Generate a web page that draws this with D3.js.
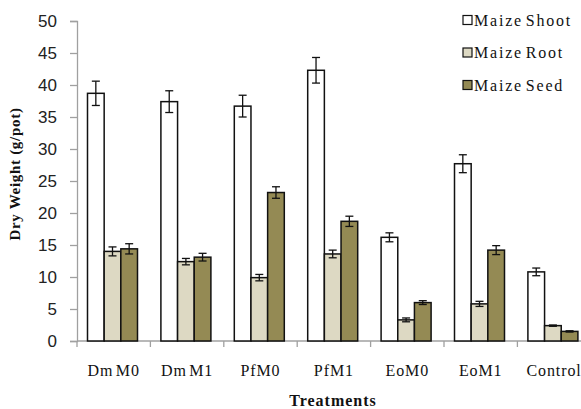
<!DOCTYPE html>
<html>
<head>
<meta charset="utf-8">
<script src="https://cdn.jsdelivr.net/npm/d3@7"></script>
<style>
  body { margin: 0; background: #fff; }
  svg { display: block; overflow: hidden; }
</style>
</head>
<body>
<script>
// data
var treatments = ["Dm M0", "Dm M1", "PfM0", "PfM1", "EoM0", "EoM1", "Control"];
var seriesNames = ["Maize Shoot", "Maize Root", "Maize Seed"];
var shoot    = [38.7, 37.4, 36.7, 42.3, 16.2, 27.7, 10.8];
var shootErr = [1.9, 1.7, 1.7, 2.0, 0.7, 1.4, 0.6];
var root     = [14.0, 12.4, 9.9, 13.6, 3.3, 5.8, 2.4];
var rootErr  = [0.7, 0.5, 0.5, 0.6, 0.3, 0.4, 0.1];
var seed     = [14.4, 13.1, 23.2, 18.7, 6.0, 14.2, 1.5];
var seedErr  = [0.8, 0.6, 0.9, 0.8, 0.3, 0.7, 0.1];
var yTicks   = [0, 5, 10, 15, 20, 25, 30, 35, 40, 45, 50];
var colors   = ["#ffffff", "#ddd9c3", "#948a54"];

var W = 581, H = 409;
var plotLeft = 77, plotTop = 21, plotBottom = 341;

var data = treatments.map(function(t, i) {
  return {
    name: t,
    vals: [
      {s: seriesNames[0], v: shoot[i], e: shootErr[i], c: colors[0]},
      {s: seriesNames[1], v: root[i],  e: rootErr[i],  c: colors[1]},
      {s: seriesNames[2], v: seed[i],  e: seedErr[i],  c: colors[2]}
    ]
  };
});

var svg = d3.select("body").append("svg")
  .attr("width", W)
  .attr("height", H);

var x0 = d3.scaleBand()
  .domain(treatments)
  .range([plotLeft, plotLeft + 7 * 73.4])
  .padding(0);

var x1 = d3.scaleBand()
  .domain(seriesNames)
  .range([10.5, 60.5])
  .padding(0);

var y = d3.scaleLinear()
  .domain([0, 50])
  .range([plotBottom, plotTop]);

// y axis
var yAxis = d3.axisLeft(y).tickValues(yTicks).tickSize(7).tickPadding(13).tickSizeOuter(7);
var gy = svg.append("g")
  .attr("transform", "translate(" + plotLeft + ",0)")
  .call(yAxis);
gy.selectAll("path, line").attr("stroke", "#a0a0a0").attr("stroke-width", 1.3);
gy.selectAll("text")
  .attr("font-family", "Liberation Sans, Arial, sans-serif")
  .attr("font-size", 17)
  .attr("fill", "#222");

// x axis: ticks on category boundaries
var gx = svg.append("g")
  .attr("transform", "translate(0," + plotBottom + ")");
gx.append("line")
  .attr("x1", plotLeft).attr("x2", W)
  .attr("stroke", "#a0a0a0").attr("stroke-width", 1.3);
gx.selectAll(".bt")
  .data(treatments)
  .enter().append("line")
  .attr("x1", function(d) { return x0(d); })
  .attr("x2", function(d) { return x0(d); })
  .attr("y1", 0).attr("y2", 6)
  .attr("stroke", "#a0a0a0").attr("stroke-width", 1.3);
gx.selectAll(".lab")
  .data(treatments)
  .enter().append("text")
  .attr("x", function(d) { return x0(d) + x0.bandwidth() / 2; })
  .attr("y", 35)
  .attr("text-anchor", "middle")
  .attr("font-family", "Liberation Serif, Times New Roman, serif")
  .attr("font-size", 16)
  .attr("letter-spacing", 0.9)
  .attr("word-spacing", -2.5)
  .attr("fill", "#111")
  .text(function(d) { return d; });

// bars
var groups = svg.selectAll(".grp")
  .data(data)
  .enter().append("g")
  .attr("transform", function(d) { return "translate(" + x0(d.name) + ",0)"; });

groups.selectAll("rect")
  .data(function(d) { return d.vals; })
  .enter().append("rect")
  .attr("x", function(d) { return x1(d.s); })
  .attr("y", function(d) { return y(d.v); })
  .attr("width", x1.bandwidth())
  .attr("height", function(d) { return y(0) - y(d.v); })
  .attr("fill", function(d) { return d.c; })
  .attr("stroke", "#111")
  .attr("stroke-width", 1.5);

// error bars
var eb = groups.selectAll(".err")
  .data(function(d) { return d.vals; })
  .enter().append("g")
  .attr("stroke", "#111")
  .attr("stroke-width", 1.3);
eb.append("line")
  .attr("x1", function(d) { return x1(d.s) + x1.bandwidth() / 2; })
  .attr("x2", function(d) { return x1(d.s) + x1.bandwidth() / 2; })
  .attr("y1", function(d) { return y(d.v + d.e); })
  .attr("y2", function(d) { return y(d.v - d.e); });
eb.append("line")
  .attr("x1", function(d) { return x1(d.s) + x1.bandwidth() / 2 - 4; })
  .attr("x2", function(d) { return x1(d.s) + x1.bandwidth() / 2 + 4; })
  .attr("y1", function(d) { return y(d.v + d.e); })
  .attr("y2", function(d) { return y(d.v + d.e); });
eb.append("line")
  .attr("x1", function(d) { return x1(d.s) + x1.bandwidth() / 2 - 4; })
  .attr("x2", function(d) { return x1(d.s) + x1.bandwidth() / 2 + 4; })
  .attr("y1", function(d) { return y(d.v - d.e); })
  .attr("y2", function(d) { return y(d.v - d.e); });

// axis titles
svg.append("text")
  .attr("x", (plotLeft + W) / 2 + 4)
  .attr("y", 406)
  .attr("text-anchor", "middle")
  .attr("font-family", "Liberation Serif, Times New Roman, serif")
  .attr("font-weight", "bold")
  .attr("font-size", 16)
  .attr("letter-spacing", 1)
  .attr("fill", "#111")
  .text("Treatments");

svg.append("text")
  .attr("transform", "translate(20,174) rotate(-90)")
  .attr("text-anchor", "middle")
  .attr("font-family", "Liberation Serif, Times New Roman, serif")
  .attr("font-weight", "bold")
  .attr("font-size", 15)
  .attr("letter-spacing", 0.7)
  .attr("fill", "#111")
  .text("Dry Weight (g/pot)");

// legend
var legend = svg.selectAll(".leg")
  .data(seriesNames)
  .enter().append("g")
  .attr("transform", function(d, i) { return "translate(463," + (20 + i * 32.5) + ")"; });
legend.append("rect")
  .attr("x", 0).attr("y", -4.5)
  .attr("width", 9).attr("height", 9)
  .attr("fill", function(d, i) { return colors[i]; })
  .attr("stroke", "#111")
  .attr("stroke-width", 1.2);
legend.append("text")
  .attr("x", 11)
  .attr("y", 5.5)
  .attr("font-family", "Liberation Serif, Times New Roman, serif")
  .attr("font-size", 16)
  .attr("letter-spacing", 1.8)
  .attr("word-spacing", -3)
  .attr("fill", "#111")
  .text(function(d) { return d; });
</script>
</body>
</html>
